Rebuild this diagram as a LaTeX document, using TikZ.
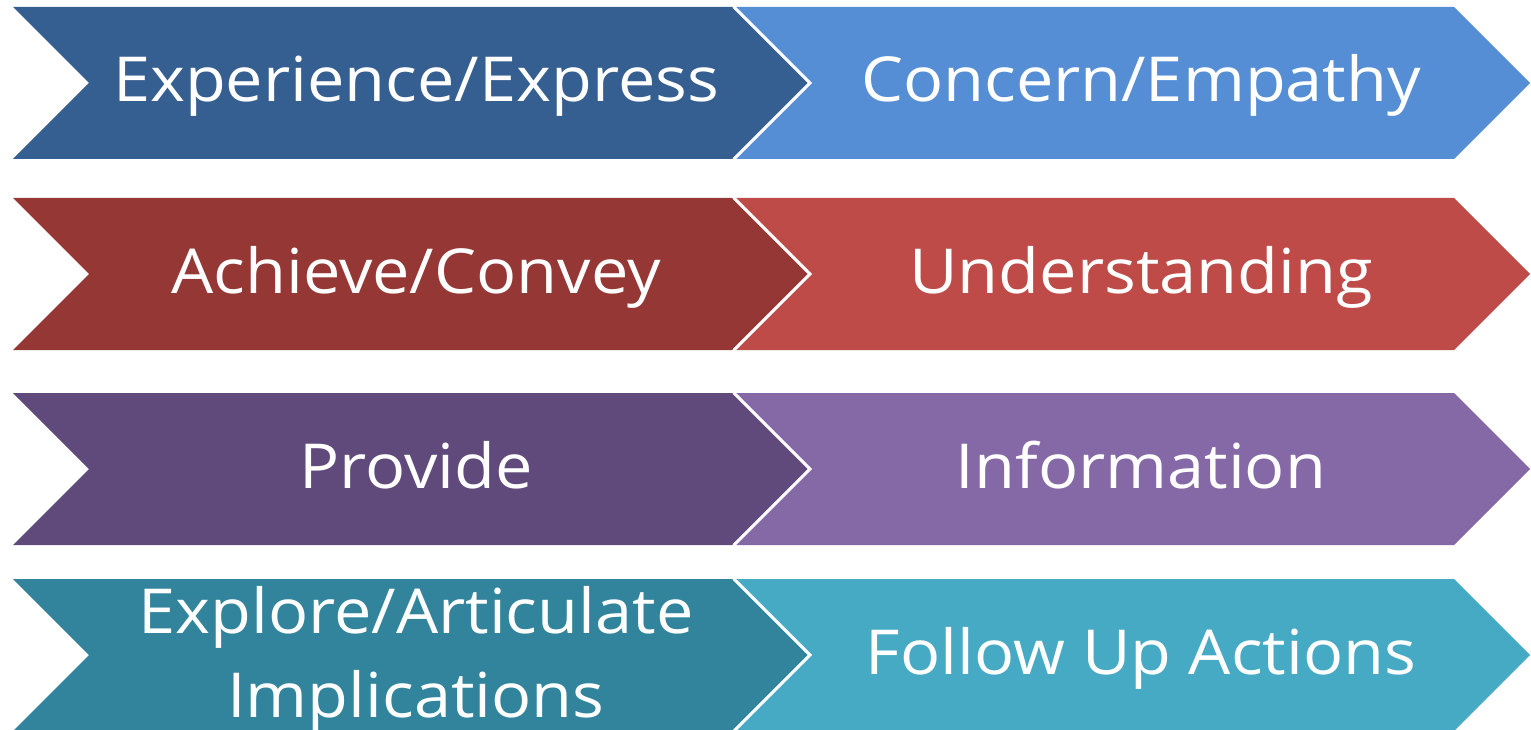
\documentclass[tikz,border=0pt]{standalone}
\usepackage{fontspec}
\setmainfont[FakeStretch=1.075]{Open Sans}

\definecolor{blueDark}{HTML}{365F91}
\definecolor{blueLight}{HTML}{558ED5}
\definecolor{redDark}{HTML}{953735}
\definecolor{redLight}{HTML}{BE4B48}
\definecolor{purpleDark}{HTML}{604A7B}
\definecolor{purpleLight}{HTML}{8568A6}
\definecolor{tealDark}{HTML}{31849B}
\definecolor{tealLight}{HTML}{46AAC5}

% one chevron: colour, left x, middle y
\newcommand{\chev}[3]{%
    \fill[#1,shift={(#2,#3)}] (0,-76) -- (719,-76) -- (795,0) -- (719,76) -- (0,76) -- (76,0) -- cycle;}
% white seam on the notch of a right chevron
\newcommand{\seam}[2]{%
    \draw[white,line width=3pt,shift={(#1,#2)}] (0,-76) -- (76,0) -- (0,76);}

\begin{document}
\begin{tikzpicture}
    [x=1pt,y=-1pt
    ,every node/.style={text=white,anchor=base,align=center,font=\fontsize{62}{84}\selectfont}
    ]

    \useasboundingbox (0,0) rectangle (1531,730);

    \chev{blueDark}{13}{83}
    \chev{redDark}{13}{274}
    \chev{purpleDark}{13}{469}
    \chev{tealDark}{13}{655}

    \chev{blueLight}{735}{83}
    \chev{redLight}{735}{274}
    \chev{purpleLight}{735}{469}
    \chev{tealLight}{735}{655}

    \seam{734}{83}
    \seam{734}{274}
    \seam{734}{469}
    \seam{734}{655}

    \node (exp) at (416,102) {Experience/Express};
    \node (ach) at (416,293) {Achieve/Convey};
    \node (pro) at (416,488) {Provide};
    \node (ear) at (416,717) {Explore/Articulate\\Implications};

    \node (con) at (1141,102) {Concern/Empathy};
    \node (und) at (1141,293) {Understanding};
    \node (inf) at (1141,488) {Information};
    \node (fol) at (1141,674) {Follow Up Actions};

\end{tikzpicture}
\end{document}
